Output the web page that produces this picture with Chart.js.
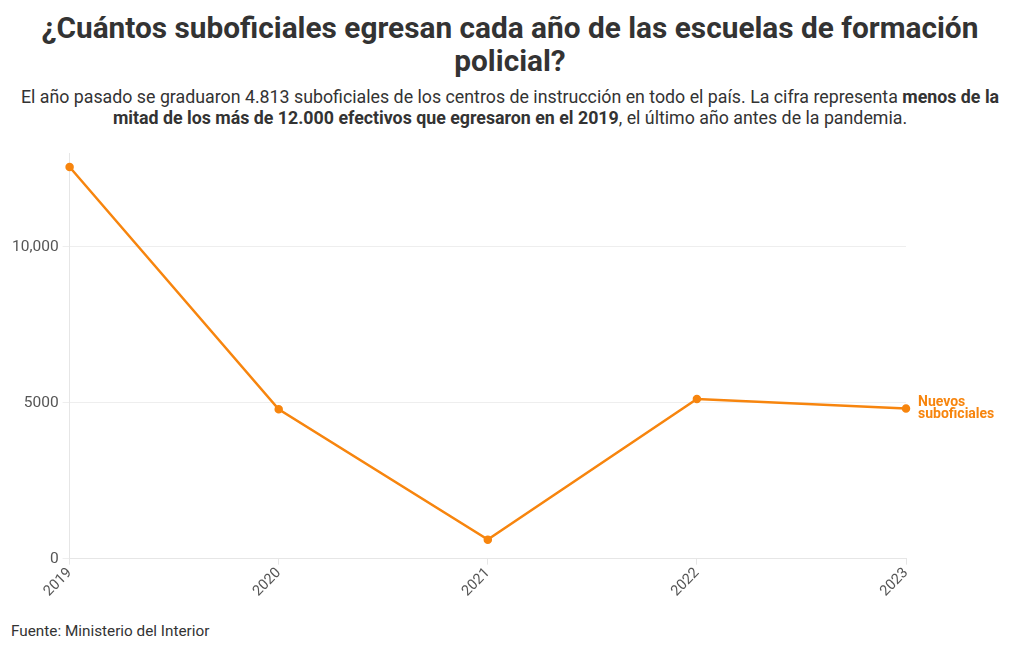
<!DOCTYPE html>
<html>
<head>
<meta charset="utf-8">
<script src="https://cdn.jsdelivr.net/npm/chart.js@4"></script>
<style>
  body { margin: 0; width: 1020px; height: 650px; background: #fff; font-family: "Roboto", sans-serif; color: #333; position: relative; overflow: hidden; }
  h1 { margin: 0; position: absolute; top: 11px; left: 0; width: 1020px; text-align: center; font-size: 29.8px; line-height: 33px; font-weight: 700; color: #333; }
  .sub { position: absolute; top: 86px; left: 0; width: 1020px; text-align: center; font-size: 17.8px; line-height: 21px; color: #333; white-space: nowrap; }
  .src { position: absolute; top: 622px; left: 11px; font-size: 15.3px; color: #333; }
  .wrap { position: absolute; top: 140px; left: 0; width: 1020px; height: 480px; }
</style>
</head>
<body>
<h1>¿Cuántos suboficiales egresan cada año de las escuelas de formación<br>policial?</h1>
<div class="sub">El año pasado se graduaron 4.813 suboficiales de los centros de instrucción en todo el país. La cifra representa <b>menos de la</b><br><b>mitad de los más de 12.000 efectivos que egresaron en el 2019</b>, el último año antes de la pandemia.</div>
<div class="wrap"><canvas id="chart" width="1020" height="480"></canvas></div>
<div class="src">Fuente: Ministerio del Interior</div>
<script>
const years = ["2019", "2020", "2021", "2022", "2023"];
const graduates = [12560, 4790, 610, 5120, 4813];
const yTicks = [0, 5000, 10000];
const seriesName = ["Nuevos", "suboficiales"];
const orange = "#f7850e";

// label at the end of the line
const endLabel = {
  id: "endLabel",
  afterDatasetsDraw(chart) {
    const meta = chart.getDatasetMeta(0);
    const last = meta.data[meta.data.length - 1];
    const ctx = chart.ctx;
    ctx.save();
    ctx.fillStyle = orange;
    ctx.font = "bold 14px Roboto";
    ctx.textBaseline = "middle";
    ctx.fillText(seriesName[0], last.x + 12, last.y - 6);
    ctx.fillText(seriesName[1], last.x + 12, last.y + 6);
    ctx.restore();
  }
};

new Chart(document.getElementById("chart"), {
  type: "line",
  data: {
    labels: years,
    datasets: [{
      data: graduates,
      borderColor: orange,
      backgroundColor: orange,
      borderWidth: 2.5,
      pointRadius: 3,
      pointHoverRadius: 3,
      tension: 0
    }]
  },
  options: {
    responsive: false,
    animation: false,
    layout: { padding: { left: 8, right: 114, top: 10, bottom: 20 } },
    plugins: { legend: { display: false }, tooltip: { enabled: false } },
    scales: {
      x: {
        offset: false,
        grid: { display: true, drawOnChartArea: false, color: "#e6e6e6", tickLength: 6 },
        border: { color: "#e6e6e6" },
        ticks: { color: "#555", font: { family: "Roboto", size: 14.5 }, minRotation: 45, maxRotation: 45, padding: 0 }
      },
      y: {
        min: 0,
        max: 13000,
        afterBuildTicks: (axis) => { axis.ticks = yTicks.map((v) => ({ value: v })); },
        grid: { color: "#eeeeee", tickLength: 7 },
        border: { color: "#e6e6e6" },
        ticks: {
          color: "#555",
          font: { family: "Roboto", size: 15.5 },
          padding: 4,
          callback: (v) => (v >= 10000 ? v.toLocaleString("en-US") : String(v))
        }
      }
    }
  },
  plugins: [endLabel]
});
</script>
</body>
</html>
